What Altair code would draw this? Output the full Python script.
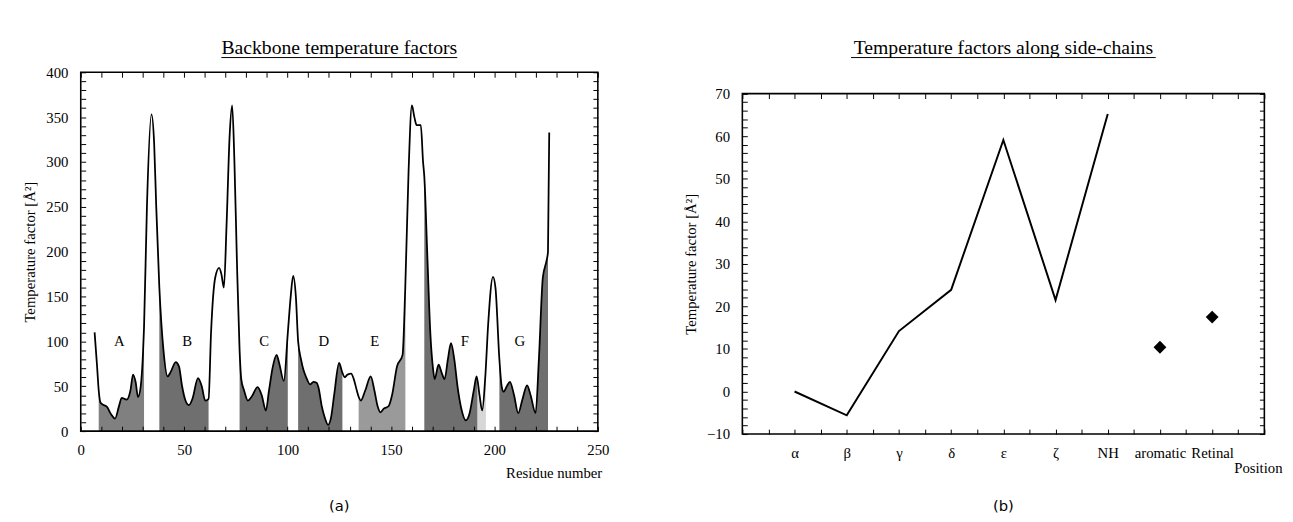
import json
import altair as alt
import pandas as pd

FONT = "Liberation Serif"

# ---------------- left panel: backbone temperature factors ----------------
residue = [6.7, 7.9, 8.7, 9.5, 10.3, 12.7, 14.6, 16.6, 18.4, 19.8, 22.2, 24.0, 25.3, 26.5,
           27.7, 29.0, 30.1, 30.6, 32.0, 34.2, 35.5, 36.5, 38.0, 40.0, 42.0, 43.5, 45.9, 47.5,
           49.0, 50.5, 52.3, 54.0, 56.7, 58.5, 60.2, 61.8, 63.0, 65.0, 66.9, 68.0, 69.2, 70.5,
           72.0, 73.2, 74.3, 75.5, 76.8, 77.6, 79.0, 80.8, 82.5, 85.5, 87.5, 89.5, 91.0, 92.7,
           94.7, 96.0, 98.2, 100.1, 101.5, 102.7, 104.0, 105.1, 106.5, 107.7, 109.0, 110.9,
           112.5, 114.0, 115.0, 116.5, 118.0, 119.6, 121.0, 122.5, 124.9, 126.5, 127.6, 129.0,
           130.7, 132.0, 133.5, 134.4, 135.4, 137.5, 140.2, 142.0, 143.5, 144.9, 146.5, 148.9,
           150.5, 152.9, 155.6, 156.9, 158.5, 160.1, 161.3, 162.4, 164.4, 165.5, 166.1, 167.5,
           169.0, 170.3, 171.1, 173.0, 174.5, 175.9, 177.5, 179.0, 180.6, 182.2, 184.0, 186.2,
           188.0, 190.0, 191.4, 192.8, 194.1, 195.6, 197.0, 199.3, 200.5, 202.4, 203.5, 204.4,
           206.0, 207.5, 209.5, 211.5, 213.5, 215.8, 217.5, 219.9, 221.5, 223.4, 225.2, 225.9,
           226.5]
bfactor = [110, 72, 45, 32, 30, 27, 19, 14, 27, 37, 35, 45, 63, 55,
           38, 50, 87, 116, 250, 353, 320, 250, 160, 90, 61, 66, 77, 72,
           50, 35, 29, 36, 59, 50, 34, 36, 110, 171, 182, 175, 160, 230,
           330, 363, 300, 190, 90, 58, 45, 34, 38, 49, 40, 23, 45, 70,
           85, 75, 56, 109, 150, 173, 150, 100, 80, 68, 60, 52,
           55, 54, 48, 28, 15, 7, 15, 40, 76, 65, 60, 63,
           64, 58, 45, 38, 34, 45, 61, 45, 28, 21, 25, 28,
           40, 72, 85, 160, 290, 363, 350, 341, 341, 300, 284, 200,
           110, 70, 58, 74, 65, 58, 80, 98, 80, 49, 25, 12,
           20, 45, 61, 40, 23, 61, 120, 172, 160, 80, 50, 44,
           50, 55, 40, 20, 35, 51, 40, 20, 80, 171, 190, 200,
           333]

helix_names = ["A", "B", "C", "D", "E", "F", "G"]
helix_label_x = [18.7, 51.5, 88.7, 117.5, 142.1, 185.7, 212.3]
helix_label_y = [100, 100, 100, 100, 100, 100, 100]

# unshaded (loop) stretches under the curve
gap_start = [6.0, 30.6, 61.8, 100.1, 126.5, 156.9, 195.6, 225.9]
gap_end = [8.7, 38.0, 76.8, 105.1, 134.4, 166.1, 202.4, 227.5]
# lighter-shaded stretches
light_start = [8.7, 134.4, 191.7]
light_end = [30.6, 156.9, 195.6]
light_level = [0.12, 0.3, 0.72]

x_ticks_left = list(range(0, 251, 10))
y_ticks_left = list(range(0, 401, 10))

# ---------------- right panel: side-chain temperature factors ----------------
positions = ["α", "β", "γ", "δ", "ε", "ζ", "NH", "aromatic", "Retinal"]
chain_names = ["α", "β", "γ", "δ", "ε", "ζ", "NH"]
chain_values = [0, -5.6, 14.2, 23.9, 59.1, 21.5, 65.2]
point_names = ["aromatic", "Retinal"]
point_values = [10.4, 17.5]

x_ticks_right = [i / 2 for i in range(0, 21)]
y_ticks_right = list(range(-10, 71, 2))

# ---------------------------------------------------------------------------
curve = pd.DataFrame({"residue": residue, "bfactor": bfactor})
helix = pd.DataFrame({"name": helix_names, "x": helix_label_x, "y": helix_label_y})
gaps = pd.DataFrame({"s": gap_start, "e": gap_end})
lights = pd.DataFrame({"s": light_start, "e": light_end, "lvl": light_level})
one = pd.DataFrame({"k": [0]})

W1, H1 = 526, 365
W2, H2 = 531, 368
TOP2 = 21.7          # right plot frame starts this far below the view top

xs1 = alt.Scale(domain=[0, 250], nice=False, zero=False)
ys1 = alt.Scale(domain=[0, 400], nice=False)

ax_common = dict(tickSize=5, domain=False, grid=False, zindex=1,
                 tickColor="black", tickWidth=1, labelColor="black",
                 labelFont=FONT, titleFont=FONT, titleColor="black",
                 titleFontWeight="normal", labelOverlap=False, labelFlush=False)

x_bottom1 = alt.Axis(values=x_ticks_left, labelExpr="datum.value % 50 == 0 ? datum.label : ''",
                     labelFontSize=15, labelPadding=12, title="Residue number", titleFontSize=15,
                     titleX=W1 + 4, titleY=47, titleAlign="right", titleBaseline="middle",
                     offset=-5, **ax_common)
y_left1 = alt.Axis(values=y_ticks_left, labelExpr="datum.value % 50 == 0 ? datum.label : ''",
                   labelFontSize=15, labelPadding=13, title="Temperature factor [Å²]",
                   titleFontSize=15, titlePadding=9, offset=-5, **ax_common)
x_top1 = alt.Axis(orient="top", values=x_ticks_left, labels=False, title=None, offset=-5, **ax_common)
y_right1 = alt.Axis(orient="right", values=y_ticks_left, labels=False, title=None, offset=-5,
                    **ax_common)

area = alt.Chart(curve).mark_area(color="#6f6f6f", interpolate="monotone").encode(
    x=alt.X("residue:Q", scale=xs1, axis=x_bottom1),
    y=alt.Y("bfactor:Q", scale=ys1, axis=y_left1),
)
gap_rects = alt.Chart(gaps).mark_rect(color="white").encode(
    x=alt.X("s:Q", scale=xs1, axis=None), x2="e:Q",
    y=alt.Y(datum=0, scale=ys1, axis=None), y2=alt.datum(400),
)
light_rects = alt.Chart(lights).mark_rect(color="white").encode(
    x=alt.X("s:Q", scale=xs1, axis=None), x2="e:Q",
    y=alt.Y(datum=0, scale=ys1, axis=None), y2=alt.datum(400),
    opacity=alt.Opacity("lvl:Q", scale=None, legend=None),
)
line1 = alt.Chart(curve).mark_line(color="black", strokeWidth=1.8, interpolate="monotone").encode(
    x=alt.X("residue:Q", scale=xs1, axis=x_top1),
    y=alt.Y("bfactor:Q", scale=ys1, axis=y_right1),
)
frame1 = alt.Chart(one).mark_rect(filled=False, stroke="black", strokeWidth=1.6).encode(
    x=alt.X(datum=0, scale=xs1, axis=None), x2=alt.datum(250),
    y=alt.Y(datum=0, scale=ys1, axis=None), y2=alt.datum(400),
)
letters = alt.Chart(helix).mark_text(font=FONT, fontSize=15, color="black", baseline="middle").encode(
    x=alt.X("x:Q", scale=xs1, axis=None),
    y=alt.Y("y:Q", scale=ys1, axis=None),
    text="name:N",
)
title1 = alt.Chart(one).mark_text(text="Backbone temperature factors", font=FONT, fontSize=20,
                                  color="black", baseline="middle").encode(
    x=alt.value(W1 / 2), y=alt.value(-25))
uline1 = alt.Chart(one).mark_rule(color="black", strokeWidth=1).encode(
    x=alt.value(W1 / 2 - 120), x2=alt.value(W1 / 2 + 120), y=alt.value(-15))
cap1 = alt.Chart(one).mark_text(text="(a)", font="DejaVu Sans", fontSize=15, color="black",
                                baseline="middle").encode(x=alt.value(W1 / 2), y=alt.value(441))

left = alt.layer(area, gap_rects, light_rects, line1, frame1, letters, title1, uline1, cap1).resolve_axis(
    x="independent", y="independent").properties(width=W1, height=H1)

# ---------------------------------------------------------------------------
chain = pd.DataFrame({"name": chain_names, "value": chain_values,
                      "pos": [positions.index(n) + 1 for n in chain_names]})
pts = pd.DataFrame({"name": point_names, "value": point_values,
                    "pos": [positions.index(n) + 1 for n in point_names]})

xs2 = alt.Scale(domain=[0, 10], nice=False, zero=False)
ys2 = alt.Scale(domain=[-10, 70], nice=False, zero=False, range=[H2, TOP2])

lab_expr = ("datum.value % 1 == 0 && datum.value >= 1 && datum.value <= 9 ? "
            + json.dumps(positions, ensure_ascii=False) + "[datum.value - 1] : ''")
x_bottom2 = alt.Axis(values=x_ticks_right, labelExpr=lab_expr, labelFontSize=15, labelPadding=12,
                     title="Position", titleFontSize=15, titleX=W2 + 18, titleY=39,
                     titleAlign="right", titleBaseline="middle", offset=-5, **ax_common)
y_left2 = alt.Axis(values=y_ticks_right, labelExpr="datum.value % 10 == 0 ? datum.label : ''",
                   labelFontSize=15, labelPadding=13, title="Temperature factor [Å²]",
                   titleFontSize=15, titlePadding=8, offset=-5, **ax_common)
x_top2 = alt.Axis(orient="top", values=x_ticks_right, labels=False, title=None,
                  offset=-(TOP2 + 5), **ax_common)
y_right2 = alt.Axis(orient="right", values=y_ticks_right, labels=False, title=None, offset=-5,
                    **ax_common)

line2 = alt.Chart(chain).mark_line(color="black", strokeWidth=2).encode(
    x=alt.X("pos:Q", scale=xs2, axis=x_bottom2),
    y=alt.Y("value:Q", scale=ys2, axis=y_left2),
)
dots = alt.Chart(pts).mark_point(shape="diamond", filled=True, size=170, color="black", opacity=1).encode(
    x=alt.X("pos:Q", scale=xs2, axis=x_top2),
    y=alt.Y("value:Q", scale=ys2, axis=y_right2),
)
frame2 = alt.Chart(one).mark_rect(filled=False, stroke="black", strokeWidth=1.6).encode(
    x=alt.X(datum=0, scale=xs2, axis=None), x2=alt.datum(10),
    y=alt.Y(datum=-10, scale=ys2, axis=None), y2=alt.datum(70),
)
title2 = alt.Chart(one).mark_text(text="Temperature factors along side-chains", font=FONT, fontSize=20,
                                  color="black", baseline="middle").encode(
    x=alt.value(W2 / 2), y=alt.value(-25))
uline2 = alt.Chart(one).mark_rule(color="black", strokeWidth=1).encode(
    x=alt.value(W2 / 2 - 155), x2=alt.value(W2 / 2 + 155), y=alt.value(-15))
cap2 = alt.Chart(one).mark_text(text="(b)", font="DejaVu Sans", fontSize=15, color="black",
                                baseline="middle").encode(x=alt.value(W2 / 2), y=alt.value(441))

right = alt.layer(frame2, line2, dots, title2, uline2, cap2).resolve_axis(
    x="independent", y="independent").properties(width=W2, height=H2)

chart = alt.hconcat(left, right, spacing=75).properties(
    padding={"left": 14, "top": 25, "right": 2, "bottom": 0},
    background="white",
).configure_view(stroke="transparent")

chart.save("out.html", embed_options={"renderer": "svg", "actions": False})
